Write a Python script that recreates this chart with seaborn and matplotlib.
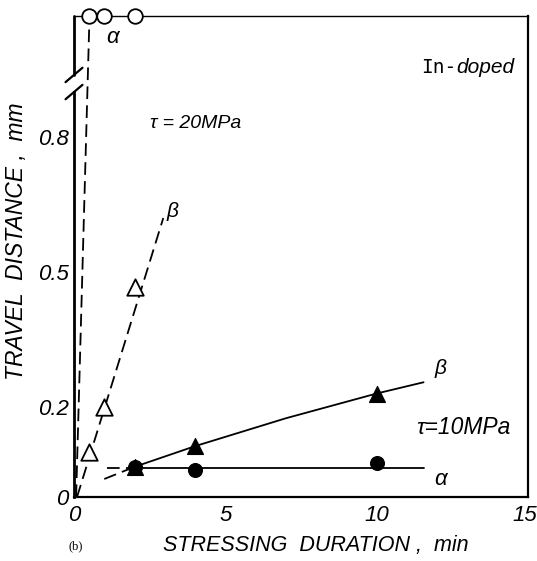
import matplotlib
matplotlib.use("Agg")
import matplotlib.pyplot as plt
import matplotlib.transforms as mtransforms
import pandas as pd
import seaborn as sns

# tau = 20 MPa, beta dislocations (open triangles)
t20_beta = [0.5, 1.0, 2.0]
d20_beta = [0.10, 0.20, 0.467]
# tau = 20 MPa, alpha dislocations: ran off scale, drawn on the top frame
t20_alpha = [0.5, 1.0, 2.0]

# tau = 10 MPa (filled markers)
t10 = [2, 4, 10]
d10_beta = [0.067, 0.113, 0.23]
d10_alpha = [0.066, 0.060, 0.075]

# guide lines drawn through the data
fit20_alpha_t = [0.07, 0.5]
fit20_alpha_d = [0.0, 1.04]
fit20_beta_t = [0.1, 2.95]
fit20_beta_d = [0.0, 0.62]
fit10_beta_t = [2.0, 4.0, 7.0, 10.0, 11.55]
fit10_beta_d = [0.067, 0.113, 0.175, 0.23, 0.255]
fit10_beta_ext_t = [1.0, 2.0]
fit10_beta_ext_d = [0.04, 0.067]
fit10_alpha_t = [2.0, 11.55]
fit10_alpha_d = [0.065, 0.065]
fit10_alpha_ext_t = [1.1, 2.0]
fit10_alpha_ext_d = [0.065, 0.065]

x_ticks = [0, 5, 10, 15]
y_ticks = [0, 0.1, 0.2, 0.3, 0.4, 0.5, 0.6, 0.7, 0.8]
y_labels = ['0', '', '0.2', '', '', '0.5', '', '', '0.8']

YTOP = 1.069

sns.set_theme(style="white")
plt.rcParams['font.family'] = ['Liberation Sans', 'DejaVu Sans']

fig = plt.figure(figsize=(5.37, 5.61), dpi=100)
ax = fig.add_axes([74 / 537, 1 - 497 / 561, 454 / 537, 481 / 561])

dash = (0, (7, 3.5))
lw = 1.3

def guide(tx, dy, ls):
    df = pd.DataFrame({'t': tx, 'd': dy})
    sns.lineplot(data=df, x='t', y='d', ax=ax, color='black', lw=lw,
                 estimator=None, sort=False, linestyle=ls, clip_on=False)

guide(fit20_alpha_t, fit20_alpha_d, dash)
guide(fit20_beta_t, fit20_beta_d, dash)
guide(fit10_beta_t, fit10_beta_d, '-')
guide(fit10_beta_ext_t, fit10_beta_ext_d, dash)
guide(fit10_alpha_t, fit10_alpha_d, '-')
guide(fit10_alpha_ext_t, fit10_alpha_ext_d, dash)

# markers
sns.scatterplot(x=t20_beta, y=d20_beta, ax=ax, marker='^', s=140,
                facecolor='white', edgecolor='black', linewidth=1.3, zorder=5)
sns.scatterplot(x=t10, y=d10_alpha, ax=ax, marker='o', s=100,
                color='black', edgecolor='black', zorder=5)
sns.scatterplot(x=t10, y=d10_beta, ax=ax, marker='^', s=130,
                color='black', edgecolor='black', zorder=6)
sns.scatterplot(x=t20_alpha, y=[YTOP] * len(t20_alpha), ax=ax, marker='o', s=110,
                facecolor='white', edgecolor='black', linewidth=1.3, zorder=7,
                clip_on=False)

ax.set_xlim(0, 15)
ax.set_ylim(0, YTOP)
ax.set_xticks(x_ticks)
ax.set_xticklabels(x_ticks)
ax.set_yticks(y_ticks)
ax.set_yticklabels(y_labels)
ax.tick_params(direction='in', length=7, width=1.3, colors='black',
               labelsize=16)
ax.tick_params(axis='y', pad=4)
ax.tick_params(axis='x', pad=6)
for lab in ax.get_xticklabels() + ax.get_yticklabels():
    lab.set_fontstyle('italic')
# keep the last x label inside the picture
last = ax.get_xticklabels()[-1]
last.set_transform(last.get_transform() +
                   mtransforms.ScaledTranslation(-3 / 100, 0, fig.dpi_scale_trans))
ax.set_xlabel('')
ax.set_ylabel('')

for side, w in [('left', 2.0), ('bottom', 1.6), ('right', 1.6), ('top', 1.0)]:
    ax.spines[side].set_color('black')
    ax.spines[side].set_linewidth(w)

# broken y axis
ax.spines['left'].set_bounds(0, 0.90)
ax.plot([0, 0], [0.938, YTOP], color='black', lw=2.0, clip_on=False, zorder=8)
for yc in [0.938, 0.900]:
    ax.plot([-0.28, 0.28], [yc - 0.016, yc + 0.016], color='black', lw=1.6,
            clip_on=False, zorder=8)

# annotations
txt = dict(color='black', fontstyle='italic')
ax.text(1.05, 1.01, 'α', fontsize=16, **txt)
ax.text(2.5, 0.83, 'τ = 20MPa', fontsize=14, va='center', **txt)
ax.text(3.05, 0.635, 'β', fontsize=15, va='center', **txt)
ax.text(11.9, 0.285, 'β', fontsize=15, va='center', **txt)
ax.text(11.3, 0.155, 'τ=10MPa', fontsize=16.5, va='center', **txt)
ax.text(11.9, 0.04, 'α', fontsize=16, va='center', **txt)
ax.text(12.62, 0.955, 'In-', fontsize=14, va='center', ha='right', color='black',
        family=['DejaVu Sans Mono', 'Liberation Mono'])
ax.text(12.62, 0.955, 'doped', fontsize=15, va='center', ha='left', **txt)

fig.text(17 / 537, 1 - 241 / 561, 'TRAVEL  DISTANCE ,  mm', rotation=90,
         ha='center', va='center', fontsize=16.5, **txt)
fig.text(316 / 537, 1 - 545 / 561, 'STRESSING  DURATION ,  min',
         ha='center', va='center', fontsize=15.5, **txt)
fig.text(76 / 537, 1 - 546 / 561, '(b)', ha='center', va='center',
         fontsize=9, family='Liberation Serif', color='black')

fig.savefig('out.png', dpi=100)
